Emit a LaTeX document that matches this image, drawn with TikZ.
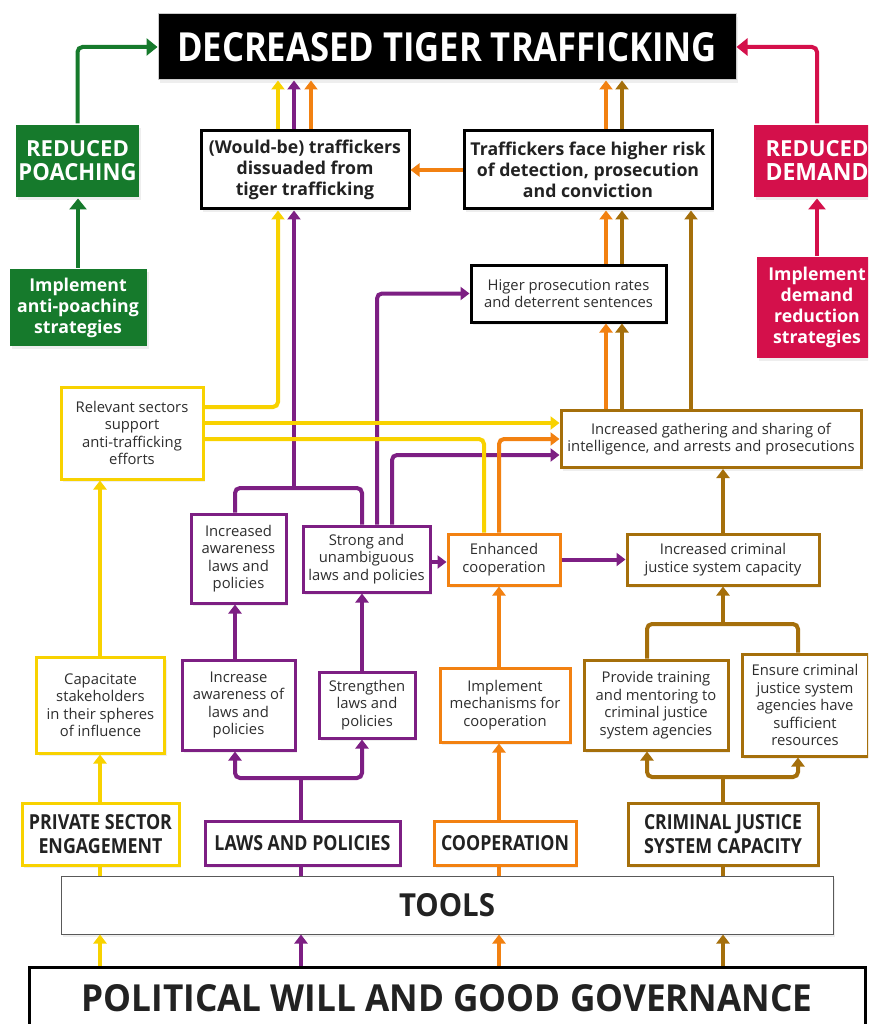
\documentclass[tikz,border=0pt]{standalone}
\usepackage{fontspec}
\setmainfont{Open Sans}
\usepackage{graphicx}
\usetikzlibrary{arrows.meta,shadows}

\definecolor{cgreen}{HTML}{167A2C}
\definecolor{cred}{HTML}{D4104B}
\definecolor{cyel}{HTML}{F8D200}
\definecolor{cpur}{HTML}{7D1F83}
\definecolor{corg}{HTML}{F28111}
\definecolor{cbrn}{HTML}{A56F0B}
\definecolor{ctxt}{HTML}{2E2E2E}
\definecolor{chd}{HTML}{222222}

\newcommand{\fl}[3]{\resizebox{#1pt}{#2pt}{\bfseries #3}}

\tikzset{
  sz/.style 2 args={minimum width=#1pt, minimum height=#2pt},
  box/.style={rectangle, inner sep=0pt, align=center, fill=white, line width=3pt, text=ctxt,
    drop shadow={shadow xshift=2pt, shadow yshift=-3pt, opacity=0.13}},
  sm/.style={font=\fontsize{14.8}{17.5}\selectfont},
  bd/.style={font=\bfseries\fontsize{17.7}{21}\selectfont},
  hd/.style={font=\bfseries\fontsize{16}{24}\selectfont},
  con/.style={line width=4pt, rounded corners=5pt},
  arr/.style={con, -{Triangle[length=9pt,width=13pt]}},
  garr/.style={con, -{Triangle[length=11pt,width=17pt]}},
}

\begin{document}
\begin{tikzpicture}[x=1pt,y=-1pt]
\fill[white] (0,0) rectangle (868,1024);
\path[use as bounding box] (0,0) rectangle (868,1024);
\clip (0,0) rectangle (868,1024);

% ---------- nodes ----------
\node[box, fill=black, draw=black!20, line width=1pt, text=white, sz={578}{66}] (title) at (447,47)
  {\fl{540}{29}{DECREASED TIGER TRAFFICKING}};

\node[box, fill=cgreen, draw=none, text=white, hd, sz={123}{72}] (rp) at (77.5,161)
  {\fl{103}{16}{REDUCED}\\\fl{118}{17}{POACHING}};
\node[box, fill=cgreen, draw=none, text=white, bd, sz={137}{77}] (iap) at (78,307.5)
  {Implement\\anti-poaching\\strategies};

\node[box, fill=cred, draw=none, text=white, hd, sz={126}{72}] (rd) at (817,161)
  {\fl{103}{16}{REDUCED}\\\fl{103}{17}{DEMAND}};
\node[box, fill=cred, draw=none, text=white, bd, sz={120}{101}] (idr) at (817,307.5)
  {Implement\\demand\\reduction\\strategies};

\node[box, draw=black, bd, text=chd, sz={208}{78}] (wb) at (305,170)
  {(Would-be) traffickers\\dissuaded from\\tiger trafficking};
\node[box, draw=black, bd, text=chd, sz={248}{78}] (tf) at (588,170)
  {Traffickers face higher risk\\of detection, prosecution\\and conviction};
\node[box, draw=black, sm, sz={195}{57}] (hp) at (568.5,293.5)
  {Higer prosecution rates\\and deterrent sentences};

\node[box, draw=cyel, sm, sz={142}{92}] (rs) at (132,433)
  {Relevant sectors\\support\\anti-trafficking\\efforts};
\node[box, draw=cbrn, sm, sz={300}{57}] (ig) at (711,439)
  {Increased gathering and sharing of\\intelligence, and arrests and prosecutions};

\node[box, draw=cpur, sm, sz={95}{89}] (ia) at (238.5,558.5)
  {Increased\\awareness\\laws and\\policies};
\node[box, draw=cpur, sm, sz={127}{66}] (sl) at (366.5,559)
  {Strong and\\unambiguous\\laws and policies};
\node[box, draw=corg, sm, sz={112}{51}] (ec) at (504,559.5)
  {Enhanced\\cooperation};
\node[box, draw=cbrn, sm, sz={192}{51}] (ic) at (723,559.5)
  {Increased criminal\\justice system capacity};

\node[box, draw=cyel, sm, sz={128}{96}] (cs) at (100.5,705)
  {Capacitate\\stakeholders\\in their spheres\\of influence};
\node[box, draw=cpur, sm, sz={113}{90}] (iw) at (238.5,705)
  {Increase\\awareness of\\laws and\\policies};
\node[box, draw=cpur, sm, sz={96}{66}] (st) at (367,705)
  {Strengthen\\laws and\\policies};
\node[box, draw=corg, sm, sz={130}{74}] (im) at (505,705)
  {Implement\\mechanisms for\\cooperation};
\node[box, draw=cbrn, sm, sz={144}{90}] (pt) at (656,705)
  {Provide training\\and mentoring to\\criminal justice\\system agencies};
\node[box, draw=cbrn, sm, sz={126}{102}] (en) at (805,705)
  {Ensure criminal\\justice system\\agencies have\\sufficient\\resources};

\node[box, draw=cyel, hd, text=chd, sz={157}{62}] (pse) at (100.5,834)
  {\fl{143}{15}{PRIVATE SECTOR}\\\fl{124}{15}{ENGAGEMENT}};
\node[box, draw=cpur, hd, text=chd, sz={195}{44}] (lp) at (302.5,843)
  {\fl{176}{15}{LAWS AND POLICIES}};
\node[box, draw=corg, hd, text=chd, sz={142}{44}] (co) at (505,843)
  {\fl{128}{15}{COOPERATION}};
\node[box, draw=cbrn, hd, text=chd, sz={190}{62}] (cj) at (723,834)
  {\fl{158}{15}{CRIMINAL JUSTICE}\\\fl{158}{15}{SYSTEM CAPACITY}};

\node[box, draw=black!65, line width=1pt, text=chd, sz={772}{58}] (tools) at (447,905)
  {\fl{96}{23}{TOOLS}};
\node[box, draw=black, text=chd, sz={836}{62}] (pw) at (447,998)
  {\fl{731}{27}{POLITICAL WILL AND GOOD GOVERNANCE}};

% ---------- connectors ----------
% green / red
\draw[garr, cgreen] (iap.north) -- (rp.south -| iap.north);
\draw[garr, cgreen] (rp.north) |- (title.west);
\draw[garr, cred] (idr.north) -- (rd.south -| idr.north);
\draw[garr, cred] (rd.north) |- (title.east);

% into title
\draw[arr, cyel] (wb.north -| 278,0) -- (title.south -| 278,0);
\draw[arr, cpur] (wb.north -| 294,0) -- (title.south -| 294,0);
\draw[arr, corg] (wb.north -| 311,0) -- (title.south -| 311,0);
\draw[arr, corg] (tf.north -| 606,0) -- (title.south -| 606,0);
\draw[arr, cbrn] (tf.north -| 622,0) -- (title.south -| 622,0);

% traffickers -> would-be
\draw[arr, corg] (tf.west) -- (wb.east);

% higher prosecution -> traffickers
\draw[arr, corg] (hp.north -| 606,0) -- (tf.south -| 606,0);
\draw[arr, cbrn] (hp.north -| 622,0) -- (tf.south -| 622,0);
% gathering -> higher prosecution / traffickers
\draw[arr, corg] (ig.north -| 606,0) -- (hp.south -| 606,0);
\draw[arr, cbrn] (ig.north -| 622,0) -- (hp.south -| 622,0);
\draw[arr, cbrn] (ig.north -| 691,0) -- (tf.south -| 691,0);

% purple joiner -> would-be
\coordinate (pj) at (294,488);
\draw[con, cpur] (ia.north -| 235,0) |- (pj) -| (sl.north -| 362,0);
\draw[arr, cpur] (pj) -- (wb.south -| pj);
% strong -> higher prosecution, gathering, enhanced
\draw[arr, cpur] (sl.north -| 377,0) |- (hp.west);
\draw[arr, cpur] (sl.north -| 392,0) |- (ig.west |- 0,455);
\draw[arr, cpur] (sl.east |- 0,562) -- (ec.west |- 0,562);

% relevant sectors
\draw[arr, cyel] (rs.east |- 0,407) -| (wb.south -| 278,0);
\draw[arr, cyel] (rs.east |- 0,423) -- (ig.west |- 0,423);
\draw[con, cyel] (rs.east |- 0,439) -| (ec.north -| 484,0);

% enhanced cooperation
\draw[arr, corg] (ec.north -| 499,0) |- (ig.west |- 0,439);
\draw[arr, cpur] (ec.east) -- (ic.west);

% criminal justice capacity
\draw[arr, cbrn] (ic.north -| 723,0) -- (ig.south -| 723,0);
\coordinate (bj) at (723,624);
\draw[con, cbrn] (pt.north -| 647,0) |- (bj) -| (en.north -| 798,0);
\draw[arr, cbrn] (bj) -- (ic.south -| bj);

% activities -> outcomes
\draw[arr, cyel] (cs.north -| 100,0) -- (rs.south -| 100,0);
\draw[arr, cpur] (iw.north -| 235,0) -- (ia.south -| 235,0);
\draw[arr, cpur] (st.north -| 362,0) -- (sl.south -| 362,0);
\draw[arr, corg] (im.north -| 499,0) -- (ec.south -| 499,0);

% categories -> activities
\draw[arr, cyel] (pse.north -| 100,0) -- (cs.south -| 100,0);
\coordinate (lj) at (301,778);
\draw[con, cpur] (lp.north -| lj) -- (lj);
\draw[arr, cpur] (lj) -| (iw.south -| 235,0);
\draw[arr, cpur] (lj) -| (st.south -| 362,0);
\draw[arr, corg] (co.north -| 499,0) -- (im.south -| 499,0);
\coordinate (cjj) at (723,777);
\draw[con, cbrn] (cj.north -| cjj) -- (cjj);
\draw[arr, cbrn] (cjj) -| (pt.south -| 647,0);
\draw[arr, cbrn] (cjj) -| (en.south -| 798,0);

% categories -- tools
\draw[con, cyel] (pse.south -| 100,0) -- (tools.north -| 100,0);
\draw[con, cpur] (lp.south -| 301,0) -- (tools.north -| 301,0);
\draw[con, corg] (co.south -| 499,0) -- (tools.north -| 499,0);
\draw[con, cbrn] (cj.south -| 723,0) -- (tools.north -| 723,0);

% political will -> tools
\draw[arr, cyel] (pw.north -| 100,0) -- (tools.south -| 100,0);
\draw[arr, cpur] (pw.north -| 301,0) -- (tools.south -| 301,0);
\draw[arr, corg] (pw.north -| 499,0) -- (tools.south -| 499,0);
\draw[arr, cbrn] (pw.north -| 723,0) -- (tools.south -| 723,0);
\end{tikzpicture}
\end{document}
